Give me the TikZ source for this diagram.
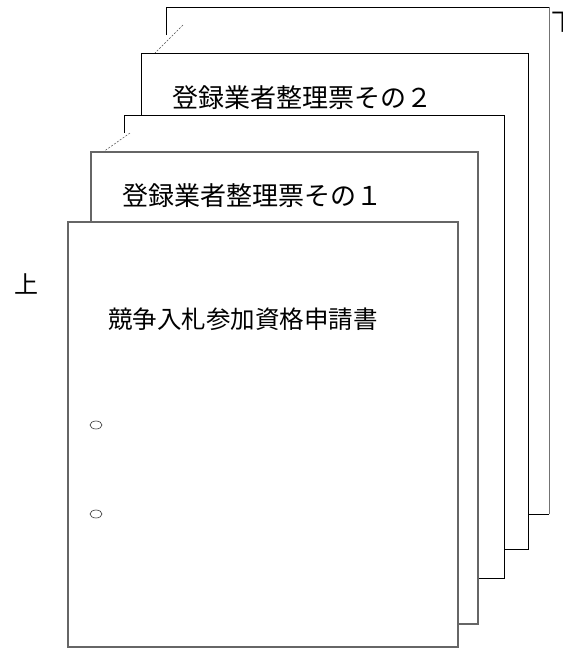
\documentclass[tikz,border=0pt]{standalone}
\usepackage{fontspec}
\usetikzlibrary{shapes.geometric}
\newfontfamily\jpfont{Noto Sans CJK JP}
\begin{document}
\begin{tikzpicture}[x=1pt,y=-1pt,
  edge/.style={line width=1pt,draw=black},
  grayedge/.style={line width=1.1pt,draw=black!60},
  guide/.style={line width=0.5pt,draw=black!70,dash pattern=on 2pt off 1.5pt},
  label/.style={font=\jpfont\fontsize{26}{26}\selectfont,inner sep=0pt,anchor=west},
  title/.style={font=\jpfont\fontsize{24.5}{24.5}\selectfont,inner sep=0pt,anchor=west},
  side/.style={font=\jpfont\fontsize{24}{24}\selectfont,inner sep=0pt},
  hole/.style={ellipse,draw=black!80,line width=0.6pt,fill=white,minimum width=12pt,minimum height=8pt,inner sep=0pt}]
\useasboundingbox (0,0) rectangle (563,649);
\fill[white] (0,0) rectangle (563,649);
% page 5 (back)
\fill[white] (166,7) rectangle (549,514);
\draw[edge] (166,35) -- (166,7) -- (549,7);
\draw[line width=1pt,draw=black!55] (549,7) -- (549,514);
\draw[edge] (549,514) -- (520,514);
\coordinate (g5a) at (183,25);
\coordinate (g5b) at (155,53);
\draw[guide] (g5a) -- (g5b);
% page 4
\draw[fill=white,edge] (141,53) rectangle (528,549);
\node[label] (t2) at (172,98) {登録業者整理票その２};
% page 3
\fill[white] (124,115) rectangle (504,578);
\draw[edge] (124,133) -- (124,115) -- (504,115) -- (504,578) -- (124,578);
\coordinate (g3a) at (130,133);
\coordinate (g3b) at (103,152);
\draw[guide] (g3a) -- (g3b);
% page 2
\draw[fill=white,grayedge] (91,152) rectangle (478,624);
\node[label] (t1) at (122,196) {登録業者整理票その１};
% page 1 (front)
\draw[fill=white,grayedge] (68,222) rectangle (458,647);
\node[title] (t0) at (108,319) {競争入札参加資格申請書};
\node[hole] (h1) at (96,425) {};
\node[hole] (h2) at (96,514) {};
\node[side] (up) at (27,284) {上};
\node[side,anchor=west] (down) at (551,22) {下};
\end{tikzpicture}
\end{document}
